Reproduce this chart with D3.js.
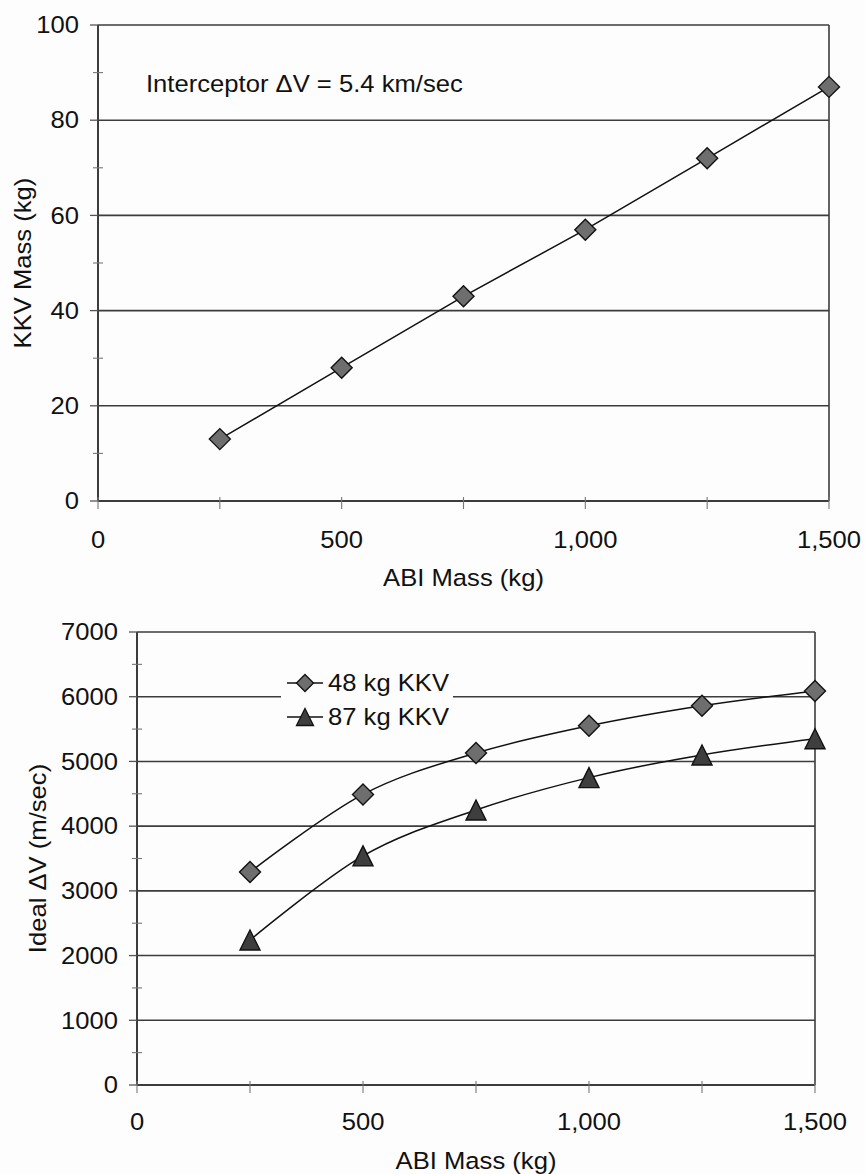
<!DOCTYPE html>
<html><head><meta charset="utf-8">
<script src="https://cdn.jsdelivr.net/npm/d3@7"></script>
<style>
body{margin:0;background:#fdfdfd;}
svg{display:block;}
text{font-family:"Liberation Sans",Arial,sans-serif;fill:#111;}
</style></head>
<body>
<svg id="c" width="865" height="1174"></svg>
<script>
// ---- data ----
const abiMass = [250, 500, 750, 1000, 1250, 1500];
const kkvMass = [13, 28, 43, 57, 72, 87];
const dv48 = [3290, 4490, 5130, 5550, 5860, 6090];
const dv87 = [2240, 3540, 4250, 4750, 5100, 5350];
const xTicks = [0, 500, 1000, 1500];
const yTicksTop = [0, 20, 40, 60, 80, 100];
const yTicksBot = [0, 1000, 2000, 3000, 4000, 5000, 6000, 7000];
const seriesNames = ["48 kg KKV", "87 kg KKV"];
const annotation = "Interceptor \u0394V = 5.4 km/sec";

const svg = d3.select("#c");
const FS = 23.5;
const SX = 1.09;
const fmt = d3.format(",");

function diamond(r){return `M0,${-r}L${r},0L0,${r}L${-r},0Z`;}
function triangle(r){return `M0,${-r}L${r},${r}L${-r},${r}Z`;}
function place(x,y,rot){return `translate(${x},${y})${rot?` rotate(${rot})`:""} scale(${SX},1)`;}

function frame(g, x, y, xMinor, yMinor, yFmt, xLabelDy){
  const [x0,x1] = x.range(), [y0,y1] = y.range();
  g.append("g").selectAll("line").data(yMinor.major.filter(d=>d!==y.domain()[0]))
   .join("line").attr("x1",x0).attr("x2",x1)
   .attr("y1",d=>y(d)).attr("y2",d=>y(d)).attr("stroke","#3c3c3c").attr("stroke-width",1.6);
  g.append("line").attr("x1",x1).attr("x2",x1).attr("y1",y0).attr("y2",y1).attr("stroke","#3c3c3c").attr("stroke-width",1.6);
  g.append("line").attr("x1",x0).attr("x2",x1).attr("y1",y0).attr("y2",y0).attr("stroke","#3c3c3c").attr("stroke-width",2);
  g.append("line").attr("x1",x0).attr("x2",x0).attr("y1",y0).attr("y2",y1).attr("stroke","#3c3c3c").attr("stroke-width",2);
  g.append("g").selectAll("line").data(yMinor.major).join("line")
   .attr("x1",x0-8).attr("x2",x0).attr("y1",d=>y(d)).attr("y2",d=>y(d)).attr("stroke","#555").attr("stroke-width",1.3);
  g.append("g").selectAll("line").data(yMinor.minor).join("line")
   .attr("x1",x0-5).attr("x2",x0+5).attr("y1",d=>y(d)).attr("y2",d=>y(d)).attr("stroke","#777").attr("stroke-width",1.1);
  g.append("g").selectAll("line").data(xMinor).join("line")
   .attr("x1",d=>x(d)).attr("x2",d=>x(d)).attr("y1",y0-4).attr("y2",y0+8).attr("stroke","#777").attr("stroke-width",1.1);
  g.append("g").selectAll("text").data(yMinor.major).join("text")
   .attr("transform",d=>place(x0-19,y(d))).attr("dy","0.35em").attr("text-anchor","end")
   .attr("font-size",FS).text(yFmt);
  g.append("g").selectAll("text").data(xTicks).join("text")
   .attr("transform",d=>place(x(d),y0+xLabelDy)).attr("dy","0.35em").attr("text-anchor","middle")
   .attr("font-size",FS).text(d=>fmt(d));
}

// ---------- top chart ----------
{
  const x = d3.scaleLinear().domain([0,1500]).range([98,829]);
  const y = d3.scaleLinear().domain([0,100]).range([501,25]);
  const g = svg.append("g");
  frame(g, x, y, d3.range(0,1501,250),
        {major: yTicksTop, minor: d3.range(10,100,20)}, d=>d, 39);
  g.append("text").attr("transform",place((98+829)/2,578)).attr("dy","0.35em")
   .attr("text-anchor","middle").attr("font-size",FS).text("ABI Mass (kg)");
  g.append("text").attr("transform",place(23,(25+501)/2,-90)).attr("dy","0.35em")
   .attr("text-anchor","middle").attr("font-size",FS).text("KKV Mass (kg)");
  g.append("text").attr("transform",place(146,84)).attr("dy","0.35em").attr("font-size",FS).text(annotation);
  const pts = abiMass.map((d,i)=>[x(d),y(kkvMass[i])]);
  g.append("path").attr("d",d3.line()(pts)).attr("fill","none").attr("stroke","#111").attr("stroke-width",1.5);
  g.append("g").selectAll("path").data(pts).join("path").attr("d",diamond(10.5))
   .attr("transform",d=>`translate(${d[0]},${d[1]})`).attr("fill","#6e6e6e").attr("stroke","#111").attr("stroke-width",1.4);
}

// ---------- bottom chart ----------
{
  const x = d3.scaleLinear().domain([0,1500]).range([137,815]);
  const y = d3.scaleLinear().domain([0,7000]).range([1085,632]);
  const g = svg.append("g");
  frame(g, x, y, d3.range(0,1501,250),
        {major: yTicksBot, minor: d3.range(500,7000,1000)}, d=>d, 37);
  g.append("text").attr("transform",place((137+815)/2,1161)).attr("dy","0.35em")
   .attr("text-anchor","middle").attr("font-size",FS).text("ABI Mass (kg)");
  g.append("text").attr("transform",place(38,(632+1085)/2,-90)).attr("dy","0.35em")
   .attr("text-anchor","middle").attr("font-size",FS).text("Ideal \u0394V (m/sec)");
  const line = d3.line().curve(d3.curveCardinal.tension(0));
  const s1 = abiMass.map((d,i)=>[x(d),y(dv48[i])]);
  const s2 = abiMass.map((d,i)=>[x(d),y(dv87[i])]);
  g.append("rect").attr("x",281).attr("y",664).attr("width",172).attr("height",72).attr("fill","#fdfdfd");
  g.append("path").attr("d",line(s1)).attr("fill","none").attr("stroke","#111").attr("stroke-width",1.5);
  g.append("path").attr("d",line(s2)).attr("fill","none").attr("stroke","#111").attr("stroke-width",1.5);
  g.append("g").selectAll("path").data(s1).join("path").attr("d",diamond(10.5))
   .attr("transform",d=>`translate(${d[0]},${d[1]})`).attr("fill","#6e6e6e").attr("stroke","#111").attr("stroke-width",1.4);
  g.append("g").selectAll("path").data(s2).join("path").attr("d",triangle(10))
   .attr("transform",d=>`translate(${d[0]},${d[1]})`).attr("fill","#3e3e3e").attr("stroke","#111").attr("stroke-width",1.4);
  const ly = [683, 717];
  seriesNames.forEach((nm,i)=>{
    g.append("line").attr("x1",287).attr("x2",323).attr("y1",ly[i]).attr("y2",ly[i]).attr("stroke","#111").attr("stroke-width",1.5);
    g.append("path").attr("d", i===0 ? diamond(8.5) : triangle(8.5))
     .attr("transform",`translate(305,${ly[i]})`).attr("fill", i===0?"#6e6e6e":"#3e3e3e").attr("stroke","#111").attr("stroke-width",1.3);
    g.append("text").attr("transform",place(328,ly[i])).attr("dy","0.35em").attr("font-size",FS).text(nm);
  });
}
</script>
</body></html>
